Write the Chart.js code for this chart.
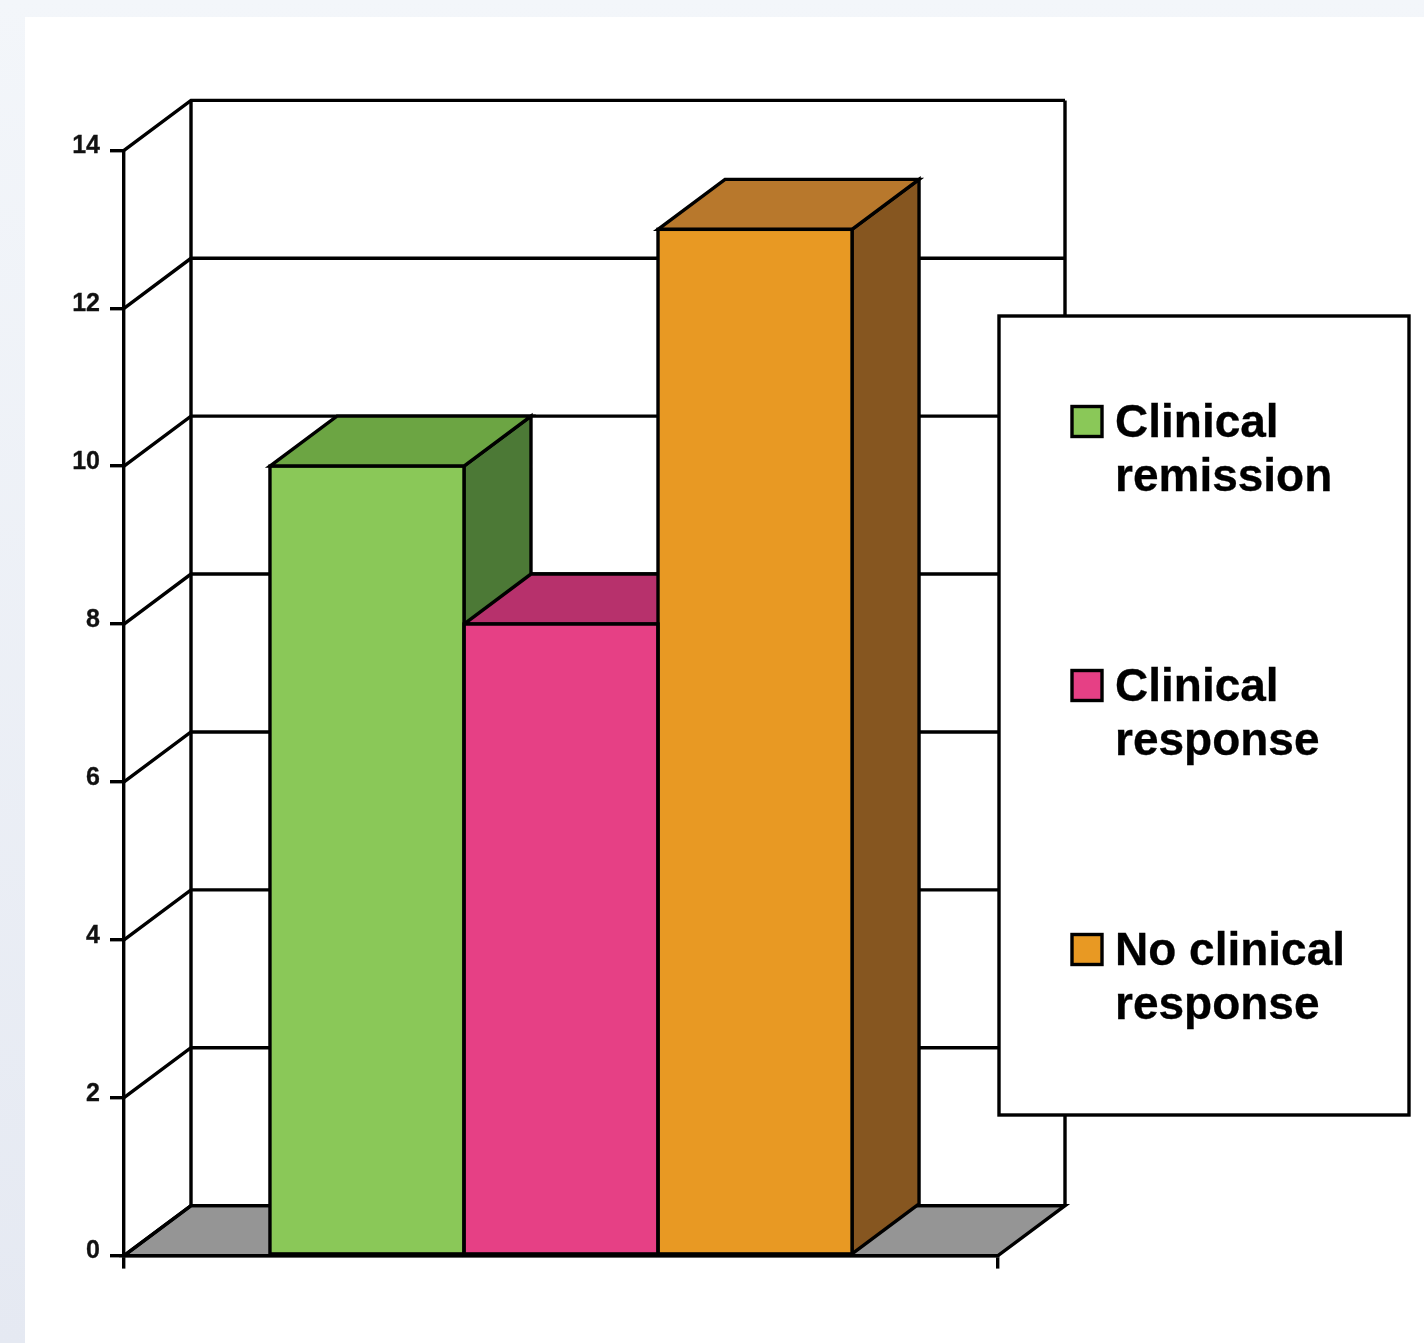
<!DOCTYPE html>
<html>
<head>
<meta charset="utf-8">
<title>Clinical outcome groups</title>
<script src="https://cdn.jsdelivr.net/npm/chart.js@4"></script>
<style>
  html, body { margin: 0; padding: 0; }
  body { width: 1424px; height: 1343px; overflow: hidden; position: relative;
         background: linear-gradient(180deg, #f3f6fa 0%, #e5e9f2 100%); }
  #panel { position: absolute; left: 25px; top: 17px; right: 0; bottom: 0; background: #fff; }
  canvas { position: absolute; left: 0; top: 0; }
</style>
</head>
<body>
<div id="panel"></div>
<canvas id="chart" width="1424" height="1343"></canvas>
<script>
// Patient counts per outcome group
const categories = [''];
const seriesNames = ['Clinical remission', 'Clinical response', 'No clinical response'];
const seriesValues = [10, 8, 13];
const tickValues = [0, 2, 4, 6, 8, 10, 12, 14];
const legendLines = [['Clinical', 'remission'], ['Clinical', 'response'], ['No clinical', 'response']];
const frontColors = ['#8ac858', '#e64085', '#e89923'];
const topColors = ['#6ca543', '#b7316c', '#b8782c'];
const sideColors = ['#4c7936', '#8a2652', '#865620'];

const DEPTH_X = 67;
const DEPTH_Y = -50;
const LINE = 3.4;
const FONT = '"Liberation Sans", Arial, sans-serif';

function poly(ctx, pts, fill) {
  ctx.beginPath();
  pts.forEach((p, i) => i ? ctx.lineTo(p[0], p[1]) : ctx.moveTo(p[0], p[1]));
  ctx.closePath();
  if (fill) { ctx.fillStyle = fill; ctx.fill(); }
  ctx.stroke();
}

function barBox(chart, i) {
  const el = chart.getDatasetMeta(i).data[0];
  return { l: el.x - el.width / 2, r: el.x + el.width / 2, t: el.y, b: el.base };
}

// Floor, back wall, receding gridlines and the depth faces of each bar
const depthPlugin = {
  id: 'depth',
  beforeDatasetsDraw(chart) {
    const { ctx, chartArea: a, scales: { y } } = chart;
    ctx.save();
    ctx.strokeStyle = '#000';
    ctx.lineWidth = LINE;
    ctx.lineJoin = 'miter';
    const base = y.getPixelForValue(0);
    poly(ctx, [[a.left, base], [a.left + DEPTH_X, base + DEPTH_Y],
               [a.right + DEPTH_X, base + DEPTH_Y], [a.right, base]], '#959595');
    tickValues.forEach(v => {
      const py = y.getPixelForValue(v);
      ctx.beginPath();
      ctx.moveTo(a.left, py);
      ctx.lineTo(a.left + DEPTH_X, py + DEPTH_Y);
      ctx.lineTo(a.right + DEPTH_X, py + DEPTH_Y);
      ctx.stroke();
    });
    ctx.beginPath();
    ctx.moveTo(a.left + DEPTH_X, a.top + DEPTH_Y);
    ctx.lineTo(a.left + DEPTH_X, base + DEPTH_Y);
    ctx.moveTo(a.right + DEPTH_X, a.top + DEPTH_Y);
    ctx.lineTo(a.right + DEPTH_X, base + DEPTH_Y);
    ctx.stroke();
    chart.data.datasets.forEach((ds, i) => {
      const b = barBox(chart, i);
      poly(ctx, [[b.r, b.t], [b.r + DEPTH_X, b.t + DEPTH_Y],
                 [b.r + DEPTH_X, b.b + DEPTH_Y], [b.r, b.b]], sideColors[i]);
      poly(ctx, [[b.l, b.t], [b.l + DEPTH_X, b.t + DEPTH_Y],
                 [b.r + DEPTH_X, b.t + DEPTH_Y], [b.r, b.t]], topColors[i]);
    });
    ctx.restore();
  },
  afterDatasetsDraw(chart) {
    const { ctx } = chart;
    ctx.save();
    ctx.strokeStyle = '#000';
    ctx.lineWidth = LINE;
    chart.data.datasets.forEach((ds, i) => {
      const b = barBox(chart, i);
      ctx.strokeRect(b.l, b.t, b.r - b.l, b.b - b.t);
    });
    ctx.restore();
  }
};

// Boxed legend with two-line entries, laid over the right end of the back wall
const boxLegendPlugin = {
  id: 'boxLegend',
  afterDraw(chart) {
    const { ctx } = chart;
    ctx.save();
    ctx.fillStyle = '#fff';
    ctx.strokeStyle = '#000';
    ctx.lineWidth = LINE;
    ctx.fillRect(999, 316, 410, 799);
    ctx.strokeRect(999, 316, 410, 799);
    ctx.font = 'bold 46px ' + FONT;
    ctx.textBaseline = 'alphabetic';
    chart.data.datasets.forEach((ds, i) => {
      const top = 406.5 + i * 264;
      ctx.fillStyle = frontColors[i];
      ctx.fillRect(1072, top, 30, 30);
      ctx.lineWidth = LINE;
      ctx.strokeRect(1072, top, 30, 30);
      ctx.fillStyle = '#000';
      ctx.lineWidth = 0.3;
      legendLines[i].forEach((line, k) => {
        ctx.fillText(line, 1115, top + 30 + k * 54);
        ctx.strokeText(line, 1115, top + 30 + k * 54);
      });
    });
    ctx.restore();
  }
};

new Chart(document.getElementById('chart'), {
  type: 'bar',
  data: {
    labels: categories,
    datasets: seriesNames.map((name, i) => ({
      label: name,
      data: [seriesValues[i]],
      backgroundColor: frontColors[i],
      borderWidth: 0
    }))
  },
  options: {
    responsive: false,
    animation: false,
    devicePixelRatio: 1,
    layout: { padding: { left: 0, top: 150.4, right: 426, bottom: 0 } },
    categoryPercentage: 0.666,
    barPercentage: 1,
    plugins: { legend: { display: false }, tooltip: { enabled: false }, title: { display: false } },
    scales: {
      x: {
        offset: true,
        ticks: { display: false },
        grid: { offset: true, drawOnChartArea: false, color: '#000', lineWidth: LINE, tickLength: 13 },
        border: { color: '#000', width: LINE },
        afterFit(s) { s.height = 87.4; }
      },
      y: {
        min: 0,
        max: 14,
        afterBuildTicks(s) { s.ticks = tickValues.map(v => ({ value: v })); },
        ticks: {
          color: '#111',
          font: { family: FONT, weight: 'bold', size: 25 },
          padding: 10,
          labelOffset: -4,
          autoSkip: false,
          textStrokeColor: '#111',
          textStrokeWidth: 0.3,
          callback: v => String(v)
        },
        grid: { drawOnChartArea: false, color: '#000', lineWidth: LINE, tickLength: 14 },
        border: { color: '#000', width: LINE },
        afterFit(s) { s.width = 124; }
      }
    }
  },
  plugins: [depthPlugin, boxLegendPlugin]
});
</script>
</body>
</html>
